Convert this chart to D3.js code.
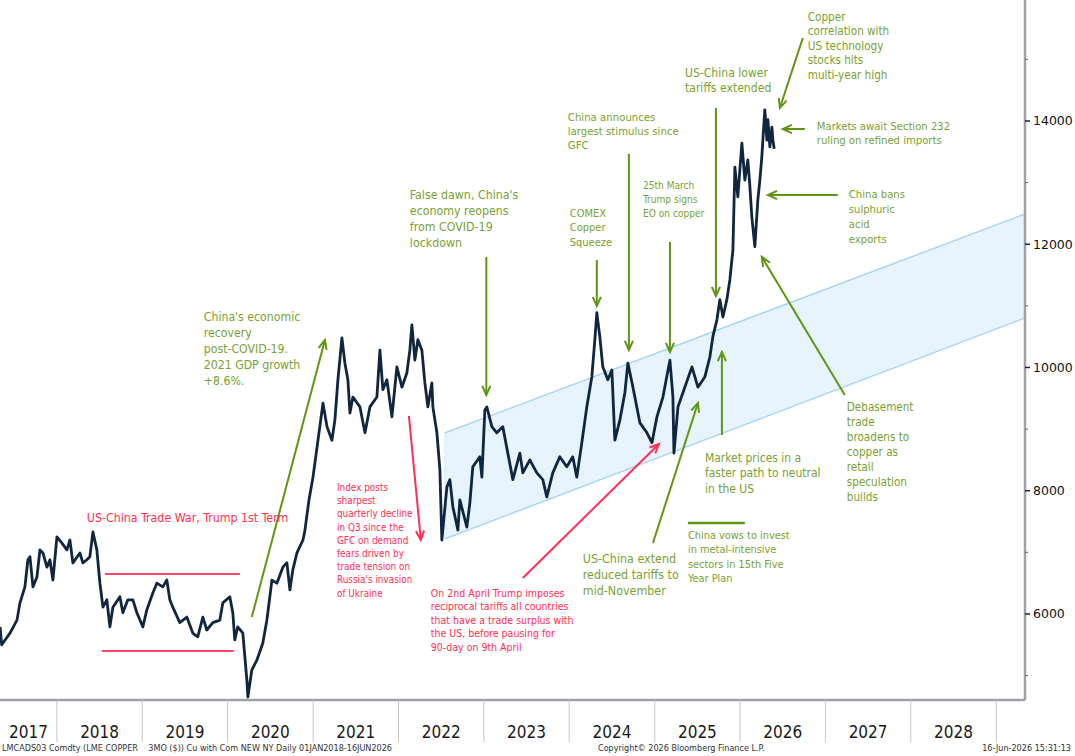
<!DOCTYPE html>
<html><head><meta charset="utf-8">
<script src="https://cdn.jsdelivr.net/npm/d3@7"></script>
<style>
body{margin:0;background:#fff;}
svg{display:block;font-family:"DejaVu Sans Condensed","DejaVu Sans",sans-serif;font-stretch:condensed;}
</style></head><body>
<svg id="c" width="1075" height="756"></svg>
<script>
// ---- data (fractional years, USD/t) ----
const years = [2017.333,2017.353,2017.450,2017.532,2017.567,2017.625,2017.660,2017.684,2017.719,2017.766,2017.801,2017.836,2017.883,2017.918,2017.953,
2018.000,2018.059,2018.117,2018.152,2018.187,2018.269,2018.304,2018.351,2018.386,2018.422,2018.468,2018.504,2018.539,2018.585,2018.621,2018.656,2018.738,2018.773,2018.831,2018.890,2018.937,
2019.007,2019.054,2019.124,2019.171,2019.241,2019.288,2019.323,2019.358,2019.440,2019.522,2019.592,2019.651,2019.710,2019.756,2019.827,2019.909,2019.944,
2020.026,2020.061,2020.084,2020.119,2020.178,2020.225,2020.237,2020.283,2020.342,2020.412,2020.459,2020.518,2020.576,2020.646,2020.693,2020.728,2020.763,2020.810,2020.881,2020.904,2020.951,2020.998,
2021.115,2021.162,2021.220,2021.255,2021.290,2021.337,2021.372,2021.407,2021.431,2021.466,2021.548,2021.607,2021.665,2021.747,2021.782,2021.817,2021.864,2021.923,2021.981,
2022.040,2022.098,2022.133,2022.157,2022.192,2022.227,2022.274,2022.309,2022.344,2022.391,2022.403,2022.450,2022.485,2022.508,2022.567,2022.602,2022.637,2022.696,2022.719,2022.801,2022.836,2022.871,2022.953,2022.977,
2023.012,2023.035,2023.094,2023.152,2023.222,2023.281,2023.340,2023.422,2023.457,2023.539,2023.621,2023.691,2023.738,2023.808,2023.890,2023.972,
2024.042,2024.089,2024.148,2024.206,2024.265,2024.300,2024.323,2024.358,2024.393,2024.452,2024.499,2024.534,2024.593,2024.651,2024.686,2024.745,2024.827,2024.909,2024.967,
2025.026,2025.096,2025.178,2025.213,2025.225,2025.272,2025.330,2025.436,2025.506,2025.588,2025.646,2025.681,2025.728,2025.763,2025.799,2025.845,2025.880,2025.916,2025.939,2025.974,
2026.021,2026.056,2026.091,2026.115,2026.138,2026.173,2026.208,2026.232,2026.255,2026.267,2026.290,2026.314,2026.326,2026.349,2026.373,2026.384,2026.400];
const prices = [5790,5500,5690,5900,6180,6440,6880,6930,6440,6600,7040,6990,6760,6880,6550,
7250,7150,7040,7200,6830,6990,6830,6880,6930,7330,7040,6500,6110,6230,5790,6110,6280,6020,6230,6230,6020,
5790,6070,6340,6500,6440,6550,6230,6110,5860,5950,5690,5630,5950,5740,5860,5900,6180,
6280,6020,5580,5790,5690,4930,4650,5090,5250,5530,5900,6550,6500,6760,6830,6390,6720,6990,7200,7360,7850,8220,
9420,9040,8820,9150,9800,10480,10070,9800,9260,9520,9360,8940,9360,9520,10280,9640,9800,9200,10010,
9680,9910,10280,10690,10120,10450,10280,9750,9360,9750,9360,8940,8340,7200,8060,8180,7740,7360,7850,7410,7800,8390,8550,8220,
9310,9360,9040,8940,9040,8610,8180,8610,8290,8500,8290,8180,7900,8290,8550,8390,
8550,8220,8780,9360,9850,10450,10890,10500,10010,9800,9960,8820,9150,9590,10070,9680,9100,8940,8780,
9200,9520,10120,9520,8610,9360,9590,10010,9680,9850,10170,10500,10770,11100,10820,11100,11420,11910,13250,12770,
13640,13040,13370,12930,12440,11960,12720,13040,13420,13690,14180,13690,14020,13580,13900,13690,13550];

const yTicks = [6000,8000,10000,12000,14000];
const yMinorTicks = [5000,7000,9000,11000,13000,15000];
const yearLabels = [2017,2018,2019,2020,2021,2022,2023,2024,2025,2026,2027,2028];

// trend channel (start / end)
const channelYears = [2022.543, 2029.336];
const channelUpper = [8937, 12491];
const channelLower = [7218, 10803];

// trade-war range lines
const rangeYears = [[2018.562, 2020.143],[2018.527, 2020.073]];
const rangeValues = [6649, 5400];

// annotations: anchor year/value of first text line
const notes = [
 {t:["China's economic","recovery","post-COVID-19.","2021 GDP growth","+8.6%."], yr:2019.721, v:10755, c:"g", fs:12.2, lh:16},
 {t:["US-China Trade War, Trump 1st Term"], yr:2018.351, v:7493, c:"r", fs:12.3, lh:16},
 {t:["Index posts","sharpest","quarterly decline","in Q3 since the","GFC on demand","fears driven by","trade tension on","Russia's invasion","of Ukraine"], yr:2021.279, v:7996, c:"r", fs:9.9, lh:13.2},
 {t:["False dawn, China's","economy reopens","from COVID-19","lockdown"], yr:2022.133, v:12734, c:"g", fs:12.3, lh:16},
 {t:["COMEX","Copper","Squeeze"], yr:2024.007, v:12442, c:"g", fs:11, lh:14.5},
 {t:["China announces","largest stimulus since","GFC"], yr:2023.984, v:14000, c:"g", fs:11.3, lh:14},
 {t:["25th March","Trump signs","EO on copper"], yr:2024.862, v:12897, c:"g", fs:10.1, lh:14},
 {t:["US-China lower","tariffs extended"], yr:2025.354, v:14714, c:"g", fs:12.1, lh:15.5},
 {t:["Copper","correlation with","US technology","stocks hits","multi-year high"], yr:2026.794, v:15623, c:"g", fs:11.6, lh:14.5},
 {t:["Markets await Section 232","ruling on refined imports"], yr:2026.899, v:13854, c:"g", fs:11.2, lh:14.5},
 {t:["China bans","sulphuric","acid","exports"], yr:2027.274, v:12751, c:"g", fs:11.2, lh:15},
 {t:["Debasement","trade","broadens to","copper as","retail","speculation","builds"], yr:2027.251, v:9294, c:"g", fs:11.6, lh:15},
 {t:["Market prices in a","faster path to neutral","in the US"], yr:2025.588, v:8467, c:"g", fs:12, lh:15.5},
 {t:["China vows to invest","in metal-intensive","sectors in 15th Five","Year Plan"], yr:2025.389, v:7217, c:"g", fs:10.9, lh:14.5},
 {t:["US-China extend","reduced tariffs to","mid-November"], yr:2024.159, v:6828, c:"g", fs:12.4, lh:16},
 {t:["On 2nd April Trump imposes","reciprocal tariffs all countries","that have a trade surplus with","the US, before pausing for","90-day on 9th April"], yr:2022.379, v:6276, c:"r", fs:10.5, lh:13.5}
];
// arrows: [fromYear, fromValue, toYear, toValue, colour]
const arrows = [
 [2020.283, 5951, 2021.138, 10446, "g"],
 [2022.122, 9213, 2022.262, 7201, "r"],
 [2023.029, 11793, 2023.029, 9554, "g"],
 [2024.323, 11744, 2024.323, 10998, "g"],
 [2024.698, 13465, 2024.698, 10284, "g"],
 [2025.178, 12037, 2025.178, 10252, "g"],
 [2025.717, 14211, 2025.717, 11160, "g"],
 [2026.735, 15347, 2026.466, 14211, "g"],
 [2026.759, 13870, 2026.501, 13870, "g"],
 [2027.145, 12799, 2026.326, 12799, "g"],
 [2027.227, 9554, 2026.255, 11793, "g"],
 [2025.787, 8905, 2025.787, 10252, "g"],
 [2024.979, 7152, 2025.506, 9424, "g"],
 [2023.457, 6584, 2025.049, 8759, "r"]
];
// plain green bar above "China vows"
const bars = [[2025.389, 2026.056, 7477]];

// ---- helpers ----
function yd(t){const y=Math.floor(t);const a=Date.UTC(y,0,1),b=Date.UTC(y+1,0,1);return new Date(a+(t-y)*(b-a));}
const W=1075,H=756, plotR=1025, plotB=700;
const svg=d3.select("#c");
const x=d3.scaleUtc().domain([yd(2017.333),yd(2029.336)]).range([0,plotR]);
const y=d3.scaleLinear().domain([4604,15963]).range([plotB,0]);
const GREEN_T="#7aa232", GREEN_L="#5f9614", RED="#ff2f55";

// channel
const chan=[[channelYears[0],channelUpper[0]],[channelYears[1],channelUpper[1]],[channelYears[1],channelLower[1]],[channelYears[0],channelLower[0]]];
svg.append("path").attr("d",d3.line().x(d=>x(yd(d[0]))).y(d=>y(d[1]))(chan)+"Z")
 .attr("fill","#e7f3fd").attr("stroke","none");
svg.append("line").attr("x1",x(yd(channelYears[0]))).attr("x2",x(yd(channelYears[0])))
 .attr("y1",y(channelUpper[0])).attr("y2",y(channelLower[0])).attr("stroke","#d6eafb").attr("stroke-width",1);
[channelUpper,channelLower].forEach(c=>{
 svg.append("line").attr("x1",x(yd(channelYears[0]))).attr("x2",x(yd(channelYears[1])))
  .attr("y1",y(c[0])).attr("y2",y(c[1])).attr("stroke","#9fd0f6").attr("stroke-width",1.3);
});

// range lines
rangeYears.forEach((r,i)=>{
 svg.append("line").attr("x1",x(yd(r[0]))).attr("x2",x(yd(r[1]))).attr("y1",y(rangeValues[i])).attr("y2",y(rangeValues[i]))
  .attr("stroke","#ff4468").attr("stroke-width",2);
});

// price line
const pts=years.map((t,i)=>[yd(t),prices[i]]);
svg.append("path").attr("d",d3.line().x(d=>x(d[0])).y(d=>y(d[1]))(pts))
 .attr("fill","none").attr("stroke","#10263f").attr("stroke-width",2.8).attr("stroke-linejoin","round");

// arrows
arrows.forEach(a=>{
 const col=a[4]==="g"?GREEN_L:"#ff2f55";
 const x1=x(yd(a[0])),y1=y(a[1]),x2=x(yd(a[2])),y2=y(a[3]);
 svg.append("line").attr("x1",x1).attr("y1",y1).attr("x2",x2).attr("y2",y2).attr("stroke",col).attr("stroke-width",2);
 const ang=Math.atan2(y2-y1,x2-x1),h=10,s=0.42;
 svg.append("path").attr("d",`M${x2-h*Math.cos(ang-s)},${y2-h*Math.sin(ang-s)}L${x2},${y2}L${x2-h*Math.cos(ang+s)},${y2-h*Math.sin(ang+s)}`)
  .attr("fill","none").attr("stroke",col).attr("stroke-width",2);
});
bars.forEach(b=>{
 svg.append("line").attr("x1",x(yd(b[0]))).attr("x2",x(yd(b[1]))).attr("y1",y(b[2])).attr("y2",y(b[2])).attr("stroke",GREEN_L).attr("stroke-width",2.5);
});

// notes
notes.forEach(n=>{
 const tx=svg.append("text").attr("x",x(yd(n.yr))).attr("y",y(n.v)).attr("font-size",n.fs)
  .attr("fill",n.c==="g"?GREEN_T:RED);
 n.t.forEach((s,i)=>tx.append("tspan").attr("x",x(yd(n.yr))).attr("dy",i?n.lh:0).text(s));
});

// right axis
const ya=svg.append("g");
ya.append("line").attr("x1",plotR).attr("x2",plotR).attr("y1",0).attr("y2",plotB).attr("stroke","#a0a0a8").attr("stroke-width",2.5);
yTicks.forEach(v=>{
 ya.append("line").attr("x1",plotR).attr("x2",plotR+5).attr("y1",y(v)).attr("y2",y(v)).attr("stroke","#222").attr("stroke-width",1.5);
 ya.append("text").attr("x",plotR+8).attr("y",y(v)).attr("dy","0.35em").attr("font-size",12.5).attr("fill","#111")
  .style("font-family","'DejaVu Sans',sans-serif").style("font-stretch","normal").text(v);
});
yMinorTicks.forEach(v=>{
 ya.append("line").attr("x1",plotR).attr("x2",plotR+3).attr("y1",y(v)).attr("y2",y(v)).attr("stroke","#666").attr("stroke-width",1);
});

// bottom axis
const xa=svg.append("g");
xa.append("line").attr("x1",0).attr("x2",plotR).attr("y1",plotB).attr("y2",plotB).attr("stroke","#a0a0a8").attr("stroke-width",2.5);
for(let yr=2018; yr<=2029; yr++){
 const px=x(yd(yr));
 xa.append("line").attr("x1",px).attr("x2",px).attr("y1",plotB).attr("y2",742).attr("stroke","#c8c8cc").attr("stroke-width",1);
}
yearLabels.forEach(yr=>{
 const a=Math.max(0,x(yd(yr))), b=Math.min(plotR,x(yd(yr+1)));
 xa.append("text").attr("x",(a+b)/2).attr("y",738).attr("text-anchor","middle").attr("font-size",17).attr("fill","#1a1a1a").text(yr);
});

// footer
const ft=svg.append("g").attr("font-size",9).attr("fill","#333");
ft.append("text").attr("x",2).attr("y",751).attr("xml:space","preserve").text("LMCADS03 Comdty (LME COPPER    3MO ($)) Cu with Com NEW NY Daily 01JAN2018-16JUN2026");
ft.append("text").attr("x",598).attr("y",751).text("Copyright\u00a9 2026 Bloomberg Finance L.P.");
ft.append("text").attr("x",1071).attr("y",751).attr("text-anchor","end").text("16-Jun-2026 15:31:13");
</script>
</body></html>
